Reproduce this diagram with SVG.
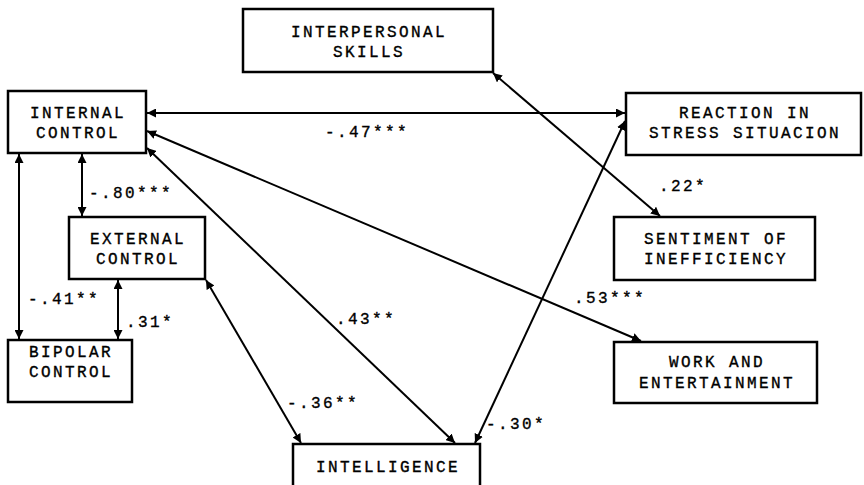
<svg xmlns="http://www.w3.org/2000/svg" width="864" height="485" viewBox="0 0 864 485">
<style>
.box{fill:#fff;stroke:#000;stroke-width:2.5}
.t{font-family:"Liberation Mono","DejaVu Sans Mono",monospace;font-size:16px;letter-spacing:2.4px;fill:#000;stroke:#000;stroke-width:0.35}
.c{text-anchor:middle}
.ln{stroke:#000;stroke-width:2;fill:none;marker-start:url(#ah);marker-end:url(#ah)}
</style>
<defs>
<marker id="ah" viewBox="0 0 10 10" refX="10" refY="5" markerWidth="9" markerHeight="9" markerUnits="userSpaceOnUse" orient="auto-start-reverse">
<path d="M0,0 L10,5 L0,10 z" fill="#000"/>
</marker>
</defs>
<rect width="864" height="485" fill="#fff"/>
<g id="connectors">
<line class="ln" x1="147" y1="113" x2="625" y2="113"/>
<line class="ln" x1="147" y1="131" x2="641" y2="341"/>
<line class="ln" x1="147" y1="148" x2="455" y2="443"/>
<line class="ln" x1="82" y1="154" x2="82" y2="216"/>
<line class="ln" x1="19" y1="154" x2="19" y2="339"/>
<line class="ln" x1="118" y1="280" x2="118" y2="339"/>
<line class="ln" x1="206" y1="280" x2="301" y2="443"/>
<line class="ln" x1="493" y1="73" x2="660" y2="216"/>
<line class="ln" x1="625" y1="121" x2="475" y2="443"/>
<text class="t" x="325" y="137">-.47***</text>
<text class="t" x="89" y="198">-.80***</text>
<text class="t" x="28" y="304">-.41**</text>
<text class="t" x="126" y="327">.31*</text>
<text class="t" x="336" y="324">.43**</text>
<text class="t" x="287" y="408">-.36**</text>
<text class="t" x="486" y="429">-.30*</text>
<text class="t" x="574" y="303">.53***</text>
<text class="t" x="659" y="191">.22*</text>
</g>
<g id="internal-control">
<rect class="box" x="8" y="91" width="138" height="62"/>
<text class="t c" x="78" y="118">INTERNAL</text>
<text class="t c" x="78" y="138">CONTROL</text>
</g>
<g id="interpersonal-skills">
<rect class="box" x="243" y="9" width="250" height="63"/>
<text class="t c" x="369" y="37">INTERPERSONAL</text>
<text class="t c" x="369" y="57">SKILLS</text>
</g>
<g id="reaction-stress">
<rect class="box" x="626" y="93" width="235" height="62"/>
<text class="t c" x="745" y="118">REACTION IN</text>
<text class="t c" x="745" y="138">STRESS SITUACION</text>
</g>
<g id="external-control">
<rect class="box" x="69" y="217" width="136" height="62"/>
<text class="t c" x="138" y="244">EXTERNAL</text>
<text class="t c" x="138" y="264">CONTROL</text>
</g>
<g id="sentiment-inefficiency">
<rect class="box" x="614" y="217" width="201" height="63"/>
<text class="t c" x="716" y="244">SENTIMENT OF</text>
<text class="t c" x="716" y="264">INEFFICIENCY</text>
</g>
<g id="bipolar-control">
<rect class="box" x="8" y="340" width="124" height="62"/>
<text class="t c" x="71" y="357">BIPOLAR</text>
<text class="t c" x="71" y="377">CONTROL</text>
</g>
<g id="work-entertainment">
<rect class="box" x="614" y="342" width="203" height="61"/>
<text class="t c" x="717" y="367">WORK AND</text>
<text class="t c" x="717" y="388">ENTERTAINMENT</text>
</g>
<g id="intelligence">
<rect class="box" x="293" y="444" width="187" height="60"/>
<text class="t c" x="388" y="472">INTELLIGENCE</text>
</g>
</svg>
